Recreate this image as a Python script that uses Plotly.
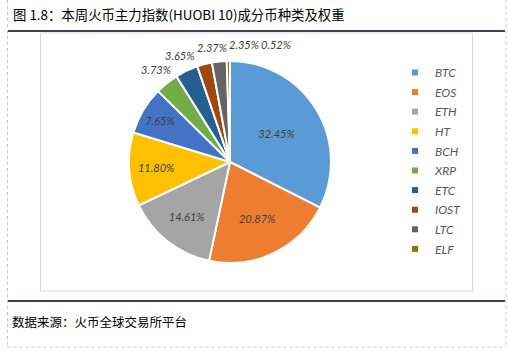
import math
import plotly.graph_objects as go

coins = ["BTC", "EOS", "ETH", "HT", "BCH", "XRP", "ETC", "IOST", "LTC", "ELF"]
weights = [32.45, 20.87, 14.61, 11.80, 7.65, 3.73, 3.65, 2.37, 2.35, 0.52]
colors = ["#5B9BD5", "#ED7D31", "#A5A5A5", "#FFC000", "#4472C4",
          "#70AD47", "#255E91", "#9E480E", "#636363", "#997300"]
title_text = "图 1.8：本周火币主力指数(HUOBI 10)成分币种类及权重"
source_text = "数据来源：火币全球交易所平台"

W, H = 508, 351
FS = 11
label_font = dict(family="Lato", size=FS, color="#404040", style="italic")
cjk = "Noto Sans CJK SC"

labels_txt = [f"{w:.2f}%" for w in weights]
positions = ["inside" if w > 5 else "none" for w in weights]

fig = go.Figure()
cx, cy, r = 230, 162, 101
fig.add_trace(go.Pie(
    labels=coins, values=weights, sort=False, direction="clockwise", rotation=0,
    marker=dict(colors=colors, line=dict(color="white", width=2)),
    texttemplate="%{value:.2f}%", textposition=positions,
    insidetextorientation="horizontal",
    textfont=label_font, insidetextfont=label_font,
    showlegend=False, hoverinfo="label+percent",
    domain=dict(x=[(cx - r) / W, (cx + r) / W], y=[1 - (cy + r) / H, 1 - (cy - r) / H]),
))
for c, col in zip(coins, colors):
    fig.add_trace(go.Scatter(x=[None], y=[None], mode="markers", name=c,
                             legendgroup=c,
                             marker=dict(symbol="square", size=6, color=col)))

# outside labels for the small slices, placed beside each slice's mid-angle
total = sum(weights)
annotations = []
cum = 0.0
placed = []
R_lab = r + 17
for w, txt in zip(weights, labels_txt):
    theta = (cum + w / 2) / total * 2 * math.pi
    cum += w
    if w > 5:
        continue
    x = cx + R_lab * math.sin(theta)
    y = cy - R_lab * math.cos(theta)
    tw, th = 0.55 * FS * len(txt), FS + 2
    for px, py, pw, ph in placed:
        if abs(x - px) < (tw + pw) / 2 and abs(y - py) < (th + ph) / 2:
            x = px + (tw + pw) / 2 + 2
    placed.append((x, y, tw, th))
    annotations.append(dict(text=txt, x=x / W, y=1 - y / H, xref="paper", yref="paper",
                            xanchor="center", yanchor="middle", showarrow=False,
                            font=label_font))

def hline(x0, x1, y, color, width, dash="solid"):
    return dict(type="line", xref="paper", yref="paper", x0=x0 / W, x1=x1 / W,
                y0=1 - y / H, y1=1 - y / H, line=dict(color=color, width=width, dash=dash))

def vline(x, y0, y1, color, width, dash="solid"):
    return dict(type="line", xref="paper", yref="paper", x0=x / W, x1=x / W,
                y0=1 - y0 / H, y1=1 - y1 / H, line=dict(color=color, width=width, dash=dash))

shapes = [
    vline(7.5, 0, 347, "#C8C8C8", 1, "dot"),
    vline(506, 0, 347, "#C8C8C8", 1, "dot"),
    hline(7.5, 506, 347, "#C8C8C8", 1, "dot"),
    hline(8, 505, 31, "#000033", 1.5),
    hline(8, 505, 301, "#000033", 1.5),
    dict(type="rect", xref="paper", yref="paper", x0=40.5 / W, x1=472.5 / W,
         y0=1 - 291 / H, y1=1 - 33 / H, line=dict(color="#D9D9D9", width=1)),
]

annotations += [
    dict(text=title_text, x=11 / W, y=1 - 14 / H, xref="paper", yref="paper",
         xanchor="left", yanchor="middle", showarrow=False,
         font=dict(family=cjk, size=13.4, color="#000000")),
    dict(text=source_text, x=10 / W, y=1 - 321 / H, xref="paper", yref="paper",
         xanchor="left", yanchor="middle", showarrow=False,
         font=dict(family=cjk, size=12.5, color="#000000")),
]

fig.update_layout(
    width=W, height=H, margin=dict(l=0, r=0, t=0, b=0),
    paper_bgcolor="white", plot_bgcolor="white",
    xaxis=dict(visible=False), yaxis=dict(visible=False),
    shapes=shapes,
    showlegend=True,
    legend=dict(x=395 / W, y=1 - 58 / H, xanchor="left", yanchor="top",
                font=dict(family="Lato", size=12, color="#595959", style="italic"),
                traceorder="grouped", tracegroupgap=0.6, bgcolor="rgba(0,0,0,0)"),
    annotations=annotations,
)
fig.write_html("out.html")
